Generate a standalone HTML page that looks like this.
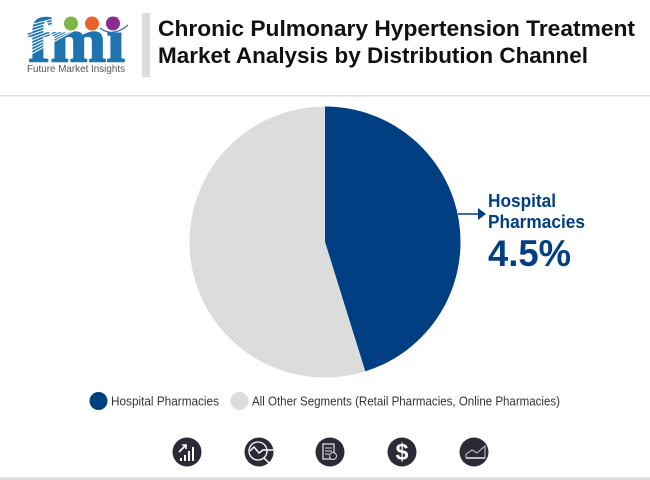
<!DOCTYPE html>
<html>
<head>
<meta charset="utf-8">
<style>
html,body{margin:0;padding:0;background:#fff;}
#chart{position:relative;width:650px;height:480px;overflow:hidden;background:#fff;font-family:"Liberation Sans",sans-serif;}
svg{position:absolute;left:0;top:0;}
</style>
</head>
<body>
<div id="chart">
<svg id="svg" width="650" height="480" viewBox="0 0 650 480">
  <g>
    <text x="28" y="61.500" font-family="Liberation Serif" font-weight="700" font-size="62" fill="#1f74b0" stroke="#1f74b0" stroke-width="1.400" textLength="97" lengthAdjust="spacingAndGlyphs">fmi</text>
    <g stroke="#fff" stroke-width="1">
      <line x1="25" x2="130" y1="26"/><line x1="25" x2="130" y1="29.500"/><line x1="25" x2="130" y1="33"/><line x1="25" x2="130" y1="36.500"/><line x1="25" x2="130" y1="40"/><line x1="25" x2="130" y1="43.500"/><line x1="25" x2="130" y1="47"/><line x1="25" x2="130" y1="50.500"/><line x1="25" x2="130" y1="54"/><line x1="25" x2="130" y1="57.500"/>
    </g>
    <rect x="100" y="18" width="28" height="14.500" fill="#fff"/>
    <circle cx="71" cy="23.500" r="7" fill="#7ab648"/>
    <circle cx="92" cy="23.500" r="7" fill="#e8622c"/>
    <circle cx="113" cy="23.500" r="7" fill="#8a2c8f"/>
    <path d="M100 28 Q113 38 128 25" fill="none" stroke="#1f74b0" stroke-width="1.200"/>
    <text x="27" y="72" font-size="10.500" fill="#555" textLength="98" lengthAdjust="spacingAndGlyphs">Future Market Insights</text>
  </g>
  <rect x="142" y="13" width="8" height="64" fill="#dcdcdc"/>
  <text x="158" y="36" font-size="22.500" font-weight="700" fill="#111" textLength="477" lengthAdjust="spacingAndGlyphs">Chronic Pulmonary Hypertension Treatment</text>
  <text x="158" y="63" font-size="22.500" font-weight="700" fill="#111" textLength="430" lengthAdjust="spacingAndGlyphs">Market Analysis by Distribution Channel</text>
  <rect x="0" y="95" width="650" height="1.500" fill="#dcdcdc"/>
  <g id="pie"></g>
  <g>
    <line x1="458" y1="214" x2="480" y2="214" stroke="#003f82" stroke-width="1.500"/>
    <path d="M478 208 L486 214 L478 220 Z" fill="#003f82"/>
    <text x="488" y="207" font-size="18.500" font-weight="700" fill="#003f82" textLength="68" lengthAdjust="spacingAndGlyphs">Hospital</text>
    <text x="488" y="228" font-size="18.500" font-weight="700" fill="#003f82" textLength="97" lengthAdjust="spacingAndGlyphs">Pharmacies</text>
    <text x="488" y="266" font-size="37" font-weight="700" fill="#003f82" textLength="83" lengthAdjust="spacingAndGlyphs">4.5%</text>
  </g>
  <g>
    <g>
      <circle cx="98.500" cy="401" r="9" fill="#003f82"/>
      <text x="111" y="405.500" font-size="12.500" fill="#333" textLength="108" lengthAdjust="spacingAndGlyphs">Hospital Pharmacies</text>
    </g>
    <g>
      <circle cx="239.500" cy="401" r="9" fill="#dcdcdc"/>
      <text x="252" y="405.500" font-size="12.500" fill="#333" textLength="308" lengthAdjust="spacingAndGlyphs">All Other Segments (Retail Pharmacies, Online Pharmacies)</text>
    </g>
  </g>
  <g fill="#2b2b38">
    <g>
      <circle cx="187" cy="452" r="14.500"/>
      <path d="M180 461h2v-3h-2zM184 461h2v-6h-2zM188 461h2v-10h-2zM192 461h2v-14h-2z" fill="#fff"/>
      <path d="M179 452l7-7M182 445h4v4" fill="none" stroke="#fff" stroke-width="1.600"/>
    </g>
    <g>
      <circle cx="259" cy="452" r="14.500"/>
      <circle cx="258" cy="451" r="9" fill="none" stroke="#fff" stroke-width="1.300"/>
      <path d="M250 451l4-4 5 6 4-3h10M264 458l7 7" fill="none" stroke="#fff" stroke-width="1.500"/>
    </g>
    <g>
      <circle cx="330" cy="452" r="14.500"/>
      <rect x="323" y="444" width="11" height="15" fill="none" stroke="#ddd" stroke-width="1.300"/>
      <path d="M325 448h7M325 451h7M325 454h4" stroke="#ddd" stroke-width="1"/>
      <circle cx="333" cy="456" r="3.500" fill="#2b2b38" stroke="#ddd" stroke-width="1"/>
    </g>
    <g>
      <circle cx="402" cy="452" r="14.500"/>
      <text x="402" y="460" font-size="23" font-weight="700" fill="#fff" text-anchor="middle">$</text>
    </g>
    <g>
      <circle cx="474" cy="452" r="14.500"/>
      <path d="M466 458v-4l6-4 5 3 8-7v12z" fill="none" stroke="#bbb" stroke-width="1.100"/>
      <path d="M466 458h19" stroke="#bbb" stroke-width="2"/>
    </g>
  </g>
  <rect x="0" y="477.500" width="650" height="2.500" fill="#dcdcdc"/>
</svg>
</div>
<script>
const categories = ["Hospital Pharmacies", "All Other Segments"];
const shares = [45.2, 54.8];
const colors = ["#003f82", "#dcdcdc"];

const pieCenterX = 325;
const pieCenterY = 242;
const pieRadius = 135.5;
const pieGroup = document.getElementById("pie");
const total = shares.reduce(function (a, b) { return a + b; }, 0);

function angleFor(value) {
  return value / total * Math.PI * 2;
}
function pointAt(angle) {
  return [pieCenterX + pieRadius * Math.sin(angle), pieCenterY - pieRadius * Math.cos(angle)];
}

let running = 0;
shares.forEach(function (value, i) {
  const start = angleFor(running);
  running += value;
  const end = angleFor(running);
  const a = pointAt(start);
  const b = pointAt(end);
  const large = end - start > Math.PI ? 1 : 0;
  const slice = document.createElementNS("http://www.w3.org/2000/svg", "path");
  slice.setAttribute("d", "M" + pieCenterX + " " + pieCenterY + " L" + a[0] + " " + a[1] + " A" + pieRadius + " " + pieRadius + " 0 " + large + " 1 " + b[0] + " " + b[1] + " Z");
  slice.setAttribute("fill", colors[i]);
  
  
  const tip = document.createElementNS("http://www.w3.org/2000/svg", "title");
  tip.textContent = categories[i];
  slice.appendChild(tip);
  pieGroup.appendChild(slice);
});
</script>
</body>
</html>
